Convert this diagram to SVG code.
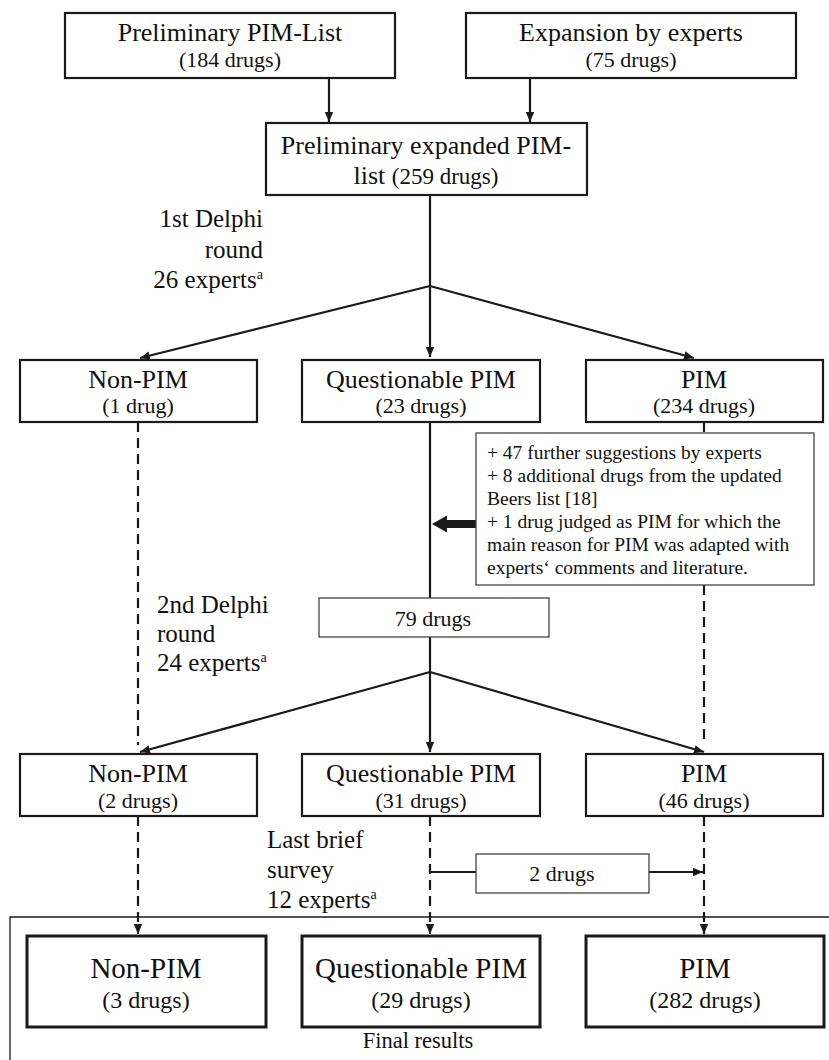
<svg xmlns="http://www.w3.org/2000/svg" width="829" height="1060" viewBox="0 0 829 1060" font-family="'Liberation Serif', 'DejaVu Serif', serif">
<style>
text{fill:#111}
.t{font-size:26px;text-anchor:middle}
.s{font-size:22px;text-anchor:middle}
.ft{font-size:29px;text-anchor:middle}
.fs{font-size:24px;text-anchor:middle}
.lbl{font-size:25px}
.note{font-size:19.5px}
.mid{font-size:22px;text-anchor:middle}
.box{fill:#fff;stroke:#1a1a1a;stroke-width:2.2}
.fbox{fill:#fff;stroke:#1a1a1a;stroke-width:3}
.thin{fill:#fff;stroke:#444;stroke-width:1.3}
.ln{fill:none;stroke:#1a1a1a;stroke-width:2.2}
.dash{fill:none;stroke:#1a1a1a;stroke-width:2.2;stroke-dasharray:10 6}
.sup{font-size:14px}
</style>
<defs>
<marker id="ah" viewBox="0 0 10 10" refX="10" refY="5" markerWidth="10" markerHeight="10" markerUnits="userSpaceOnUse" orient="auto">
<path d="M0,0.8 L10,5 L0,9.2 z" fill="#1a1a1a"/>
</marker>
</defs>

<path d="M829,917 H10 V1060" fill="none" stroke="#1a1a1a" stroke-width="1.3"/>

<g id="connectors">
<path class="ln" d="M329,78 V122" marker-end="url(#ah)"/>
<path class="ln" d="M530,78 V122" marker-end="url(#ah)"/>
<path class="ln" d="M430,195 V357" marker-end="url(#ah)"/>
<path class="ln" d="M430,286 L140,358" marker-end="url(#ah)"/>
<path class="ln" d="M430,286 L694,358" marker-end="url(#ah)"/>
<path class="ln" d="M430,422 V598"/>
<path class="ln" d="M430,637 V752" marker-end="url(#ah)"/>
<path class="ln" d="M430,672 L140,752" marker-end="url(#ah)"/>
<path class="ln" d="M430,672 L704,752" marker-end="url(#ah)"/>
<path class="dash" d="M138,422 V745"/>
<path class="dash" d="M704,422 V433"/>
<path class="dash" d="M704,585 V745"/>
<path class="dash" d="M138,816 V934" marker-end="url(#ah)"/>
<path class="dash" d="M430,816 V934" marker-end="url(#ah)"/>
<path class="dash" d="M704,816 V934" marker-end="url(#ah)"/>
<path class="ln" d="M430,872 H476"/>
<path class="ln" d="M649,872 H703" marker-end="url(#ah)"/>
<path d="M476,520 H447 V515.5 L432,524 L447,532.5 V528 H476 z" fill="#1a1a1a"/>
</g>

<g id="prelim">
<rect class="box" x="65" y="13" width="330" height="65"/>
<text class="t" x="230" y="41">Preliminary PIM-List</text>
<text class="s" x="230" y="67">(184 drugs)</text>
</g>
<g id="expansion">
<rect class="box" x="466" y="13" width="330" height="65"/>
<text class="t" x="631" y="41">Expansion by experts</text>
<text class="s" x="631" y="67">(75 drugs)</text>
</g>
<g id="expanded">
<rect class="box" x="266" y="123" width="321" height="72"/>
<text class="t" x="426" y="154">Preliminary expanded PIM-</text>
<text class="t" x="426" y="184"><tspan>list </tspan><tspan style="font-size:23px">(259 drugs)</tspan></text>
</g>

<g id="label1">
<text class="lbl" x="263" y="227" text-anchor="end">1st Delphi</text>
<text class="lbl" x="263" y="258" text-anchor="end">round</text>
<text class="lbl" x="263" y="288" text-anchor="end">26 experts<tspan class="sup" dy="-9">a</tspan></text>
</g>

<g id="nonpim1">
<rect class="box" x="20" y="360" width="237" height="62"/>
<text class="t" x="138" y="388">Non-PIM</text>
<text class="s" x="138" y="413">(1 drug)</text>
</g>
<g id="qpim1">
<rect class="box" x="302" y="360" width="238" height="62"/>
<text class="t" x="421" y="388">Questionable PIM</text>
<text class="s" x="421" y="413">(23 drugs)</text>
</g>
<g id="pim1">
<rect class="box" x="586" y="360" width="237" height="62"/>
<text class="t" x="704" y="388">PIM</text>
<text class="s" x="704" y="413">(234 drugs)</text>
</g>

<g id="additions">
<rect class="thin" x="476" y="433" width="338" height="152"/>
<text class="note" x="487" y="459">+ 47 further suggestions by experts</text>
<text class="note" x="487" y="482">+ 8 additional drugs from the updated</text>
<text class="note" x="487" y="505">Beers list [18]</text>
<text class="note" x="487" y="528">+ 1 drug judged as PIM for which the</text>
<text class="note" x="487" y="551">main reason for PIM was adapted with</text>
<text class="note" x="487" y="574">experts‘ comments and literature.</text>
</g>

<g id="drugs79">
<rect class="thin" x="319" y="598" width="230" height="39"/>
<text class="mid" x="433" y="626">79 drugs</text>
</g>

<g id="label2">
<text class="lbl" x="157" y="613">2nd Delphi</text>
<text class="lbl" x="157" y="642">round</text>
<text class="lbl" x="157" y="671">24 experts<tspan class="sup" dy="-9">a</tspan></text>
</g>

<g id="nonpim2">
<rect class="box" x="20" y="754" width="237" height="62"/>
<text class="t" x="138" y="782">Non-PIM</text>
<text class="s" x="138" y="808">(2 drugs)</text>
</g>
<g id="qpim2">
<rect class="box" x="302" y="754" width="238" height="62"/>
<text class="t" x="421" y="782">Questionable PIM</text>
<text class="s" x="421" y="808">(31 drugs)</text>
</g>
<g id="pim2">
<rect class="box" x="586" y="754" width="237" height="62"/>
<text class="t" x="704" y="782">PIM</text>
<text class="s" x="704" y="808">(46 drugs)</text>
</g>

<g id="label3">
<text class="lbl" x="267" y="848">Last brief</text>
<text class="lbl" x="267" y="878">survey</text>
<text class="lbl" x="267" y="908">12 experts<tspan class="sup" dy="-9">a</tspan></text>
</g>

<g id="drugs2">
<rect class="thin" x="476" y="854" width="173" height="39"/>
<text class="mid" x="562" y="881">2 drugs</text>
</g>

<g id="nonpim3">
<rect class="fbox" x="27" y="936" width="239" height="91"/>
<text class="ft" x="146" y="978">Non-PIM</text>
<text class="fs" x="146" y="1008">(3 drugs)</text>
</g>
<g id="qpim3">
<rect class="fbox" x="302" y="936" width="238" height="91"/>
<text class="ft" x="421" y="978">Questionable PIM</text>
<text class="fs" x="421" y="1008">(29 drugs)</text>
</g>
<g id="pim3">
<rect class="fbox" x="586" y="936" width="238" height="91"/>
<text class="ft" x="705" y="978">PIM</text>
<text class="fs" x="705" y="1008">(282 drugs)</text>
</g>

<text id="final" x="418" y="1048" text-anchor="middle" style="font-size:22.5px">Final results</text>
</svg>
